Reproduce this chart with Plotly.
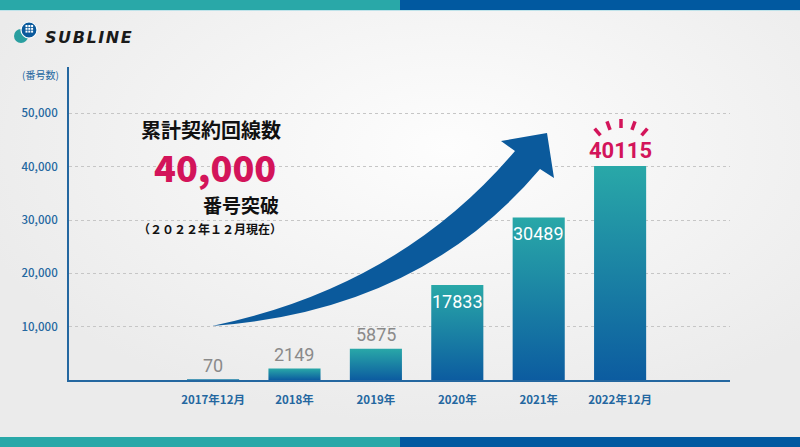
import base64
import math
import plotly.graph_objects as go

# data
periods = ["2017年12月", "2018年", "2019年", "2020年", "2021年", "2022年12月"]
lines_total = [70, 2149, 5875, 17833, 30489, 40115]
y_ticks = [10000, 20000, 30000, 40000, 50000]
y_tick_labels = ["10,000", "20,000", "30,000", "40,000", "50,000"]

W, H = 800, 447
BLUE = "#0b5a9c"
TEAL = "#29a8a8"
CRIMSON = "#d3145a"
AXIS_BLUE = "#2467a0"
JP = "Noto Sans CJK JP"


def px(x):
    return x / W


def py(y):
    return 1 - y / H


fig = go.Figure()

# bars with a vertical gradient (teal top -> blue bottom)
bw = 0.64
for i, v in enumerate(lines_total):
    fig.add_trace(go.Scatter(
        x=[i - bw / 2, i + bw / 2, i + bw / 2, i - bw / 2, i - bw / 2],
        y=[0, 0, v, v, 0],
        mode="lines", fill="toself",
        fillgradient=dict(type="vertical",
                          colorscale=[[0, "#0c5ca0"], [1, TEAL]]),
        line=dict(width=1.5 if v < 1000 else 0, color="#1a7fa6"),
        hoverinfo="skip", showlegend=False,
    ))

# value labels
for i, v in enumerate(lines_total):
    if i == len(lines_total) - 1:
        fig.add_annotation(x=i, y=v, xref="x", yref="y", text=str(v),
                           showarrow=False, yanchor="bottom", yshift=1,
                           font=dict(family="Roboto", size=22, color=CRIMSON, weight="bold"))
    elif v > 15000:
        fig.add_annotation(x=i, y=v, xref="x", yref="y", text=str(v),
                           showarrow=False, yanchor="top", yshift=-4,
                           font=dict(family="Roboto", size=18, color="white"))
    else:
        fig.add_annotation(x=i, y=v, xref="x", yref="y", text=str(v),
                           showarrow=False, yanchor="bottom", yshift=2,
                           font=dict(family="Roboto", size=18, color="#8a8a8a"))

# radial-ish background
svg = ('<svg xmlns="http://www.w3.org/2000/svg" width="800" height="447">'
       '<defs><radialGradient id="g" cx="0.56" cy="0.33" r="0.62">'
       '<stop offset="0" stop-color="#fdfdfd"/><stop offset="1" stop-color="#ebebeb"/>'
       '</radialGradient></defs><rect width="800" height="447" fill="url(#g)"/></svg>')
bg = "data:image/svg+xml;base64," + base64.b64encode(svg.encode()).decode()
fig.add_layout_image(source=bg, xref="paper", yref="paper", x=0, y=1,
                     sizex=1, sizey=1, xanchor="left", yanchor="top",
                     sizing="stretch", layer="below")

shapes = []
# top / bottom bands
shapes += [
    dict(type="rect", xref="paper", yref="paper", x0=0, x1=0.5, y0=py(10), y1=1,
         fillcolor=TEAL, line_width=0),
    dict(type="rect", xref="paper", yref="paper", x0=0.5, x1=1, y0=py(10), y1=1,
         fillcolor="#0159a0", line_width=0),
    dict(type="line", xref="paper", yref="paper", x0=0, x1=1, y0=py(10.5), y1=py(10.5),
         line=dict(color="#bfe3ea", width=1)),
    dict(type="rect", xref="paper", yref="paper", x0=0, x1=0.5, y0=0, y1=py(437),
         fillcolor=TEAL, line_width=0),
    dict(type="rect", xref="paper", yref="paper", x0=0.5, x1=1, y0=0, y1=py(437),
         fillcolor="#0159a0", line_width=0),
]

# logo icon
shapes += [
    dict(type="circle", xref="paper", yref="paper", x0=px(14), x1=px(28), y0=py(43), y1=py(29),
         fillcolor="#2a9fa0", line_width=0),
    dict(type="circle", xref="paper", yref="paper", x0=px(21), x1=px(37), y0=py(38), y1=py(22),
         fillcolor=BLUE, line=dict(color="white", width=1.2)),
]
for gx in range(3):
    for gy in range(3):
        cx, cy = 25.5 + gx * 2.8, 25 + gy * 2.8
        shapes.append(dict(type="rect", xref="paper", yref="paper",
                           x0=px(cx), x1=px(cx + 2), y0=py(cy + 2), y1=py(cy),
                           fillcolor="white", line_width=0))

# big curved arrow
T = (212, 326)
C1 = (400, 287)
U = (515, 151)
LB = (501, 141)
TIP = (547, 133)
RB = (554, 178)
LN = (540, 169)
C2 = (420, 311)


def p(pt):
    return f"{px(pt[0]):.5f},{py(pt[1]):.5f}"


path = (f"M {p(T)} Q {p(C1)} {p(U)} L {p(LB)} L {p(TIP)} L {p(RB)} "
        f"L {p(LN)} Q {p(C2)} {p(T)} Z")
shapes.append(dict(type="path", xref="paper", yref="paper", path=path,
                   fillcolor=BLUE, line_width=0, layer="above"))

# burst strokes above the last value
for a in [-40, -20, 0, 20, 40]:
    r = math.radians(a)
    cx, cy = 621, 160
    x0, y0 = cx + math.sin(r) * 32, cy - math.cos(r) * 32
    x1, y1 = cx + math.sin(r) * 41, cy - math.cos(r) * 41
    shapes.append(dict(type="line", xref="paper", yref="paper",
                       x0=px(x0), y0=py(y0), x1=px(x1), y1=py(y1),
                       line=dict(color=CRIMSON, width=3.5)))

fig.update_layout(shapes=shapes)

# texts
fig.add_annotation(x=px(43), y=py(38), xref="paper", yref="paper",
                   text="S\u200aU\u200aB\u200aL\u200aI\u200aN\u200aE",
                   showarrow=False, xanchor="left", yanchor="middle",
                   font=dict(family="DejaVu Sans", size=16, color="#1a1a1a", weight="bold", style="italic"))
fig.add_annotation(x=px(61), y=py(74), xref="paper", yref="paper", text="(番号数)",
                   showarrow=False, xanchor="right", yanchor="middle",
                   font=dict(family=JP, size=10, color=AXIS_BLUE))
fig.add_annotation(x=px(283), y=py(129), xref="paper", yref="paper", text="累計契約回線数",
                   showarrow=False, xanchor="right", yanchor="middle",
                   font=dict(family=JP, size=20, color="#111111", weight="bold"))
fig.add_annotation(x=px(278), y=py(166), xref="paper", yref="paper", text="40,000",
                   showarrow=False, xanchor="right", yanchor="middle",
                   font=dict(family=JP, size=36, color=CRIMSON, weight=900))
fig.add_annotation(x=px(281), y=py(204), xref="paper", yref="paper", text="番号突破",
                   showarrow=False, xanchor="right", yanchor="middle",
                   font=dict(family=JP, size=19, color="#111111", weight="bold"))
fig.add_annotation(x=px(284), y=py(228), xref="paper", yref="paper", text="（２０２２年１２月現在）",
                   showarrow=False, xanchor="right", yanchor="middle",
                   font=dict(family=JP, size=12, color="#111111", weight="bold"))

fig.update_layout(
    width=W, height=H,
    margin=dict(l=0, r=0, t=0, b=0, autoexpand=False),
    paper_bgcolor="#eeeeee",
    plot_bgcolor="rgba(0,0,0,0)",
    showlegend=False,
    xaxis=dict(
        domain=[px(69), px(730)], range=[-1.77, 6.35],
        tickvals=list(range(len(periods))), ticktext=periods,
        showgrid=False, zeroline=False,
        showline=True, linecolor=AXIS_BLUE, linewidth=2,
        ticks="", ticklabelstandoff=8,
        tickfont=dict(family=JP, size=11.5, color=AXIS_BLUE, weight="bold"),
        fixedrange=True,
    ),
    yaxis=dict(
        domain=[py(380), py(67)], range=[0, 58700],
        tickvals=y_ticks, ticktext=y_tick_labels,
        showgrid=True, gridcolor="#c6c6c6", griddash="dot", gridwidth=1,
        zeroline=False,
        showline=True, linecolor=AXIS_BLUE, linewidth=2,
        ticks="", ticklabelstandoff=7,
        tickfont=dict(family=JP, size=11.5, color=AXIS_BLUE, weight=500),
        fixedrange=True,
    ),
)

fig.write_html("out.html", config={"displayModeBar": False},
               post_script="document.body.style.margin='0';")
